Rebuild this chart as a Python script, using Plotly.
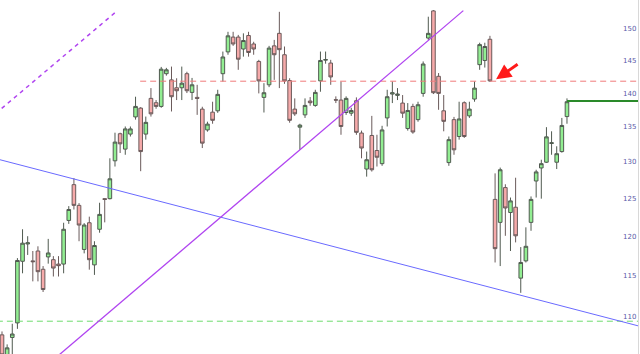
import plotly.graph_objects as go
import math

# ---- data ----
opens = [107.9, 105.2, 107.6, 109.3, 116.8, 119.0, 116.85, 118.1, 115.8, 117.35,
         117.0, 116.45, 116.45, 122.05, 126.85, 124.05, 118.3, 121.75, 116.35, 120.9,
         124.95, 124.95, 130.15, 134.0, 131.8, 133.95, 136.45, 137.75, 133.95, 139.2,
         138.55, 138.0, 142.95, 142.0, 140.8, 140.8, 142.95, 140.1, 139.35, 137.6,
         134.55, 137.15, 137.35, 142.95, 146.35, 148.7, 148.7, 146.8, 148.95, 147.6,
         144.85, 139.35, 141.25, 147.3, 149.3, 145.9, 141.9, 137.6, 134.95, 136.75,
         138.8, 138.15, 141.85, 145.05, 144.6, 139.0, 138.95, 137.1, 137.0, 138.85,
         134.1, 129.0, 133.75, 131.6, 129.75, 136.3, 139.85, 139.65, 138.5, 134.75,
         138.0, 136.05, 139.95, 148.55, 152.95, 142.55, 137.35, 129.9, 136.05, 133.6,
         138.55, 136.6, 139.1, 144.35, 145.0, 148.35, 124.85, 121.8, 126.45, 123.1,
         123.8, 114.7, 116.85, 121.8, 127.35, 129.15, 129.95, 132.6, 129.95, 131.45,
         136.5]
highs = [108.3, 106.8, 109.2, 117.2, 120.9, 120.0, 118.1, 118.7, 116.2, 119.65,
         117.45, 117.45, 121.75, 123.95, 127.75, 124.35, 121.7, 122.55, 119.35, 124.4,
         125.0, 130.5, 134.15, 134.15, 135.05, 135.05, 139.45, 137.9, 136.5, 140.75,
         138.95, 144.0, 143.85, 144.05, 142.25, 144.05, 143.25, 142.3, 141.25, 137.95,
         135.75, 138.7, 140.5, 146.4, 149.55, 149.55, 149.05, 149.3, 149.55, 147.95,
         145.1, 141.5, 147.3, 148.25, 152.8, 147.2, 142.25, 139.2, 135.45, 139.2,
         139.4, 140.5, 146.4, 146.4, 145.1, 139.5, 141.75, 139.5, 137.8, 139.35,
         134.45, 131.45, 136.6, 133.85, 135.15, 140.5, 141.75, 140.75, 139.7, 138.5,
         138.4, 138.7, 144.85, 152.0, 153.1, 143.05, 139.7, 133.6, 136.45, 138.7,
         138.75, 138.7, 141.75, 147.8, 147.8, 148.9, 128.4, 129.2, 126.9, 125.1,
         127.8, 118.6, 121.15, 125.25, 128.9, 130.3, 134.95, 134.35, 132.2, 136.3,
         139.2]
lows = [105.0, 104.9, 105.5, 108.6, 115.3, 117.6, 114.3, 114.3, 113.0, 116.5,
        114.9, 114.9, 115.3, 121.6, 123.5, 119.35, 117.8, 115.75, 115.1, 120.45,
        121.8, 124.85, 129.35, 131.25, 131.0, 133.6, 136.05, 128.7, 133.15, 136.5,
        137.65, 137.8, 142.65, 137.25, 138.95, 138.95, 140.0, 138.95, 136.75, 131.95,
        134.3, 135.45, 137.05, 141.75, 145.9, 147.3, 143.55, 145.6, 145.6, 145.9,
        139.95, 137.1, 140.9, 142.0, 140.75, 141.4, 135.6, 136.6, 131.7, 136.3,
        138.1, 137.95, 140.2, 144.5, 141.25, 138.5, 133.85, 136.75, 136.6, 133.85,
        130.5, 127.95, 128.65, 129.35, 129.45, 135.05, 138.5, 138.95, 136.3, 134.45,
        134.0, 135.75, 139.45, 148.25, 139.85, 137.5, 134.35, 129.45, 131.0, 133.15,
        133.4, 136.3, 138.7, 143.55, 143.9, 141.7, 116.65, 116.2, 120.05, 118.1,
        119.2, 112.9, 116.65, 120.7, 125.1, 124.95, 129.85, 131.0, 129.0, 131.3,
        135.45]
closes = [105.6, 106.4, 108.0, 116.9, 119.1, 119.15, 116.75, 115.5, 113.3, 117.85,
          115.95, 116.25, 120.9, 123.5, 124.05, 121.45, 121.45, 117.0, 118.8, 122.85,
          124.85, 127.65, 132.8, 132.55, 134.7, 134.7, 138.0, 131.45, 135.65, 136.9,
          138.0, 143.65, 143.55, 139.45, 140.35, 141.5, 140.35, 141.25, 139.2, 132.65,
          135.4, 135.95, 139.8, 145.55, 148.9, 147.6, 145.2, 148.15, 146.25, 146.8,
          141.85, 140.05, 146.95, 145.9, 146.7, 141.85, 135.95, 136.9, 135.25, 138.15,
          138.55, 140.1, 145.0, 145.15, 142.45, 138.95, 135.05, 139.2, 137.4, 134.2,
          131.95, 130.3, 128.9, 130.65, 134.55, 139.45, 140.05, 139.85, 137.0, 137.4,
          134.25, 138.25, 144.45, 149.3, 140.05, 139.95, 135.8, 133.15, 131.7, 136.15,
          133.6, 137.6, 140.75, 147.5, 147.2, 141.85, 118.4, 128.9, 123.7, 124.65,
          120.05, 116.65, 118.7, 124.85, 128.6, 129.75, 133.55, 132.7, 131.15, 135.2,
          138.7]
bars = list(range(len(closes)))

tick_values = [110, 115, 120, 125, 130, 135, 140, 145, 150]
tick_labels = ["110", "115", "120", "125", "130", "135", "140", "145", "150"]

# reference / trend lines (bar index, price)
blue_x, blue_y = [-0.4, 124.2], [130.3, 108.9]
purple_x, purple_y = [10.32, 89.82], [105.2, 153.0]
purple_dash_x, purple_dash_y = [-0.06, 22.0], [137.7, 152.66]
resist_x, resist_y = [26.9, 125.0], [141.8, 141.8]
support_x, support_y = [-1.0, 125.0], [109.5, 109.5]
last_x, last_y = [110, 125.0], [138.8, 138.8]
arrow_x, arrow_y = 96.2, 142.1

fig = go.Figure()

fig.add_trace(go.Scatter(x=support_x, y=support_y, mode="lines",
                         line=dict(color="#6ddc6d", width=1, dash="6px,4px"),
                         hoverinfo="skip", showlegend=False))
fig.add_trace(go.Scatter(x=resist_x, y=resist_y, mode="lines",
                         line=dict(color="#f07a7a", width=1, dash="6px,4px"),
                         hoverinfo="skip", showlegend=False))
fig.add_trace(go.Scatter(x=blue_x, y=blue_y, mode="lines",
                         line=dict(color="#6a6aff", width=1),
                         hoverinfo="skip", showlegend=False))
fig.add_trace(go.Scatter(x=purple_x, y=purple_y, mode="lines",
                         line=dict(color="#b044f0", width=1.3),
                         hoverinfo="skip", showlegend=False))
fig.add_trace(go.Scatter(x=purple_dash_x, y=purple_dash_y, mode="lines",
                         line=dict(color="#b044f0", width=1.5, dash="4px,4px"),
                         hoverinfo="skip", showlegend=False))

fig.add_trace(go.Candlestick(
    x=bars, open=opens, high=highs, low=lows, close=closes,
    increasing=dict(fillcolor="#92ee92", line=dict(color="#505a50", width=1)),
    decreasing=dict(fillcolor="#f6aaaa", line=dict(color="#6a5a5a", width=1)),
    whiskerwidth=0, showlegend=False))

fig.add_trace(go.Scatter(x=last_x, y=last_y, mode="lines",
                         line=dict(color="#2a8a2a", width=2),
                         hoverinfo="skip", showlegend=False))

fig.add_annotation(x=arrow_x, y=math.log10(arrow_y), xref="x", yref="y",
                   ax=23, ay=-16, showarrow=True, arrowhead=2, arrowsize=1,
                   arrowwidth=3, arrowcolor="#ff1a1a", text="", standoff=0)

fig.update_layout(
    width=640, height=354,
    margin=dict(l=0, r=0, t=0, b=0),
    paper_bgcolor="white", plot_bgcolor="white",
    boxgap=0.0,
    showlegend=False,
    xaxis=dict(range=[-0.389, 123.83], domain=[0, 0.9969],
               showgrid=False, zeroline=False, showticklabels=False,
               showline=False, rangeslider=dict(visible=False)),
    yaxis=dict(type="log", range=[math.log10(105.70), math.log10(154.76)],
               side="right", anchor="x", showgrid=False, zeroline=False,
               tickvals=tick_values, ticktext=tick_labels,
               ticklabelposition="inside", ticks="",
               tickfont=dict(family="DejaVu Sans", size=7, color="#5a5aa8"),
               showline=True, linecolor="#d8d8d8", linewidth=1),
)

fig.write_html("out.html", config={"displayModeBar": False})
